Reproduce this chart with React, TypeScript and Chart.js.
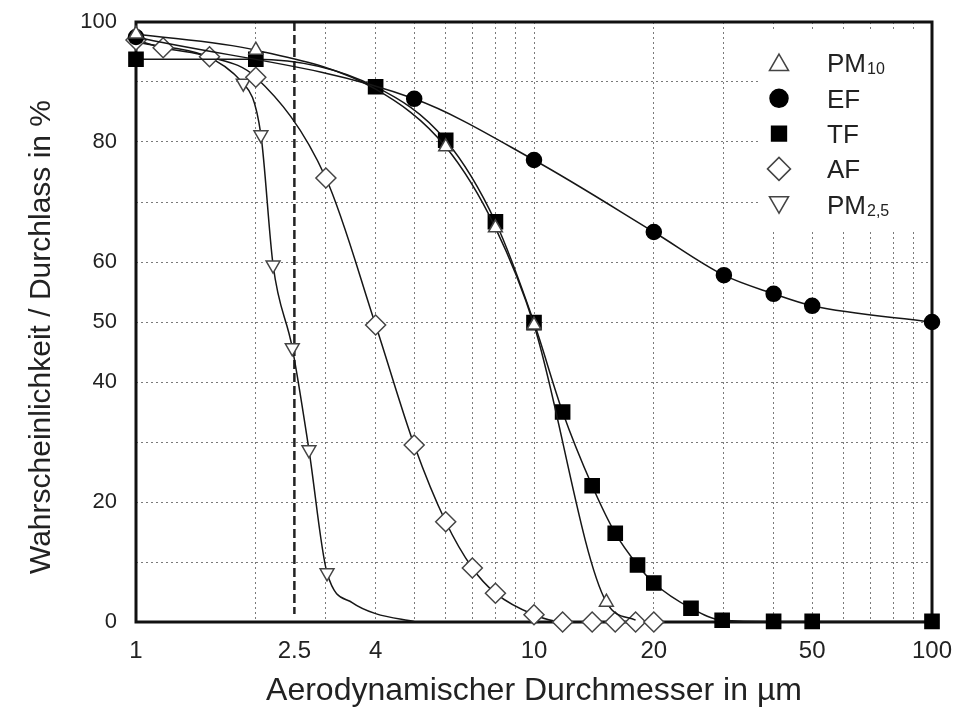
import { useEffect, useRef } from 'react';
import { Chart, registerables } from 'chart.js';
import { drawPoint } from 'chart.js/helpers';

Chart.register(...registerables);

// ---- axes ----
const xGridValues = [1, 2, 2.5, 3, 4, 5, 6, 7, 8, 9, 10, 20, 30, 40, 50, 60, 70, 80, 90, 100];
const xTickLabels = [1, 2.5, 4, 10, 20, 50, 100];
const yGridValues = [0, 10, 20, 30, 40, 50, 60, 70, 80, 90, 100];
const yTickLabels = [0, 20, 40, 50, 60, 80, 100];
const cutoffValue = 2.5;

const xTitle = 'Aerodynamischer Durchmesser in µm';
const yTitle = 'Wahrscheinlichkeit / Durchlass in %';

// ---- series (marker points + extra curve points) ----
const pm10X = [1, 2, 6, 8, 10, 15.2];
const pm10Y = [98, 95.3, 79.2, 65.7, 49.5, 3.3];
const pm10CurveX = [4, 18];
const pm10CurveY = [88.8, 0.3];

const efX = [1, 5, 10, 20, 30, 40, 50, 100];
const efY = [97.5, 87.2, 77, 65, 57.8, 54.7, 52.7, 50];

const tfX = [1, 2, 4, 6, 8, 10, 11.8, 14, 16, 18.2, 20, 24.8, 29.7, 40, 50, 100];
const tfY = [93.8, 93.8, 89.2, 80.3, 66.7, 49.9, 35, 22.7, 14.8, 9.5, 6.5, 2.3, 0.3, 0.1, 0.1, 0.1];

const afX = [1, 1.17, 1.53, 2, 3, 4, 5, 6, 7, 8, 10, 11.8, 14, 16, 18, 20];
const afY = [97, 95.7, 94.2, 90.8, 74, 49.5, 29.5, 16.7, 9, 4.8, 1.2, 0, 0, 0, 0, 0];

const pm25X = [1, 1.86, 2.06, 2.21, 2.47, 2.72, 3.02];
const pm25Y = [96.7, 89.8, 81.2, 59.5, 45.7, 28.7, 8.2];
const pm25CurveX = [3.5, 4, 5];
const pm25CurveY = [3.2, 1.4, 0.1];

const legendMain = ['PM', 'EF', 'TF', 'AF', 'PM'];
const legendSub = ['10', '', '', '', '2,5'];

type Pt = { x: number; y: number; m: boolean };

function series(mx: number[], my: number[], cx: number[] = [], cy: number[] = []): Pt[] {
  const pts: Pt[] = mx
    .map((x, i) => ({ x, y: my[i], m: true }))
    .concat(cx.map((x, i) => ({ x, y: cy[i], m: false })));
  return pts.sort((a, b) => a.x - b.x);
}

const FONT = '"Liberation Sans", Arial, sans-serif';
const LINE = '#161616';
const TEXT = '#222';
const GRID = '#7a7a7a';

const markerStyles = [
  { style: 'triangle', rot: 0, filled: false, r: 8, lr: 11 },
  { style: 'circle', rot: 0, filled: true, r: 7.5, lr: 9 },
  { style: 'rect', rot: 0, filled: true, r: 10, lr: 10.5 },
  { style: 'rectRot', rot: 0, filled: false, r: 10, lr: 11.5 },
  { style: 'triangle', rot: 180, filled: false, r: 8, lr: 11 },
];

function makeDataset(label: string, data: Pt[], idx: number) {
  const s = markerStyles[idx];
  return {
    label,
    data,
    showLine: true,
    borderColor: LINE,
    borderWidth: 1.5,
    cubicInterpolationMode: 'monotone',
    pointStyle: s.style,
    pointRotation: s.rot,
    pointRadius: (c: any) => (c.raw && c.raw.m ? s.r : 0),
    pointHoverRadius: (c: any) => (c.raw && c.raw.m ? s.r : 0),
    pointBackgroundColor: s.filled ? '#000' : '#fff',
    pointBorderColor: s.filled ? '#000' : '#444',
    pointBorderWidth: 1.5,
    clip: false,
  };
}

const decorPlugin = {
  id: 'decor',
  beforeDatasetsDraw(chart: any) {
    const { ctx, chartArea: a, scales } = chart;
    ctx.save();
    // legend background
    ctx.fillStyle = '#fff';
    ctx.fillRect(a.right - 174, a.top + 8, 170, 200);
    // cutoff dashed line
    const xp = scales.x.getPixelForValue(cutoffValue);
    ctx.strokeStyle = '#222';
    ctx.lineWidth = 2.5;
    ctx.setLineDash([9, 4]);
    ctx.beginPath();
    ctx.moveTo(xp, a.top);
    ctx.lineTo(xp, a.bottom - 8);
    ctx.stroke();
    // frame
    ctx.setLineDash([]);
    ctx.lineWidth = 3;
    ctx.strokeStyle = '#111';
    ctx.strokeRect(a.left, a.top, a.right - a.left, a.bottom - a.top);
    ctx.restore();
  },
  afterDatasetsDraw(chart: any) {
    const { ctx, chartArea: a } = chart;
    ctx.save();
    // y axis title
    ctx.translate(42, (a.top + a.bottom) / 2 + 15);
    ctx.rotate(-Math.PI / 2);
    ctx.fillStyle = TEXT;
    ctx.font = `30px ${FONT}`;
    ctx.textAlign = 'center';
    ctx.textBaseline = 'middle';
    ctx.fillText(yTitle, 0, 0);
    ctx.restore();

    ctx.save();
    const mx = a.right - 153;
    const tx = a.right - 105;
    legendMain.forEach((main, i) => {
      const s = markerStyles[i];
      const y = a.top + 41 + i * 35.3;
      ctx.fillStyle = s.filled ? '#000' : '#fff';
      ctx.strokeStyle = s.filled ? '#000' : '#444';
      ctx.lineWidth = 1.5;
      drawPoint(ctx, { pointStyle: s.style, rotation: s.rot, radius: s.lr, borderWidth: 1.5 } as any, mx, y + (s.style === 'triangle' ? (s.rot ? -2 : 2) : 0));
      ctx.fillStyle = TEXT;
      ctx.font = `26px ${FONT}`;
      ctx.textAlign = 'left';
      ctx.textBaseline = 'alphabetic';
      const base = y + 9.3;
      ctx.fillText(main, tx, base);
      if (legendSub[i]) {
        const w = ctx.measureText(main).width;
        ctx.font = `16px ${FONT}`;
        ctx.fillText(legendSub[i], tx + w + 1, base + 2);
      }
    });
    ctx.restore();
  },
};

export default function App() {
  const ref = useRef<HTMLCanvasElement>(null);
  useEffect(() => {
    document.body.style.margin = '0';
    const canvas = ref.current;
    if (!canvas) return;
    const chart = new Chart(canvas, {
      type: 'scatter',
      data: {
        datasets: [
          makeDataset('PM10', series(pm10X, pm10Y, pm10CurveX, pm10CurveY), 0),
          makeDataset('EF', series(efX, efY), 1),
          makeDataset('TF', series(tfX, tfY), 2),
          makeDataset('AF', series(afX, afY), 3),
          makeDataset('PM2,5', series(pm25X, pm25Y, pm25CurveX, pm25CurveY), 4),
        ] as any,
      },
      options: {
        animation: false,
        responsive: false,
        maintainAspectRatio: false,
        layout: { padding: { left: 0, right: 29, top: 22, bottom: 0 } },
        plugins: { legend: { display: false }, tooltip: { enabled: false } },
        scales: {
          x: {
            type: 'logarithmic',
            min: 1,
            max: 100,
            afterBuildTicks: (s: any) => {
              s.ticks = xGridValues.map((v) => ({ value: v }));
            },
            afterFit: (s: any) => {
              s.height = 91;
              s.paddingLeft = 0;
              s.paddingRight = 0;
            },
            ticks: {
              autoSkip: false,
              maxRotation: 0,
              padding: 15,
              color: TEXT,
              font: { size: 24, family: FONT },
              callback: (v: any) => (xTickLabels.includes(Number(v)) ? String(v) : ''),
            },
            grid: {
              drawTicks: false,
              lineWidth: 1,
              color: (c: any) => (c.tick && c.tick.value === cutoffValue ? 'rgba(0,0,0,0)' : GRID),
            },
            border: { display: false, dash: [2, 3] },
            title: {
              display: true,
              text: xTitle,
              color: TEXT,
              font: { size: 32, family: FONT },
              padding: { top: 0, bottom: 3 },
            },
          },
          y: {
            type: 'linear',
            min: 0,
            max: 100,
            afterBuildTicks: (s: any) => {
              s.ticks = yGridValues.map((v) => ({ value: v }));
            },
            afterFit: (s: any) => {
              s.width = 136;
              s.paddingTop = 0;
              s.paddingBottom = 0;
            },
            ticks: {
              autoSkip: false,
              padding: 19,
              color: TEXT,
              font: { size: 22, family: FONT },
              callback: (v: any) => (yTickLabels.includes(Number(v)) ? String(v) : ''),
            },
            grid: { drawTicks: false, lineWidth: 1, color: GRID },
            border: { display: false, dash: [2, 3] },
            title: { display: false },
          },
        },
      } as any,
      plugins: [decorPlugin],
    });
    return () => chart.destroy();
  }, []);
  return <canvas ref={ref} width={961} height={713} style={{ display: 'block' }} />;
}
